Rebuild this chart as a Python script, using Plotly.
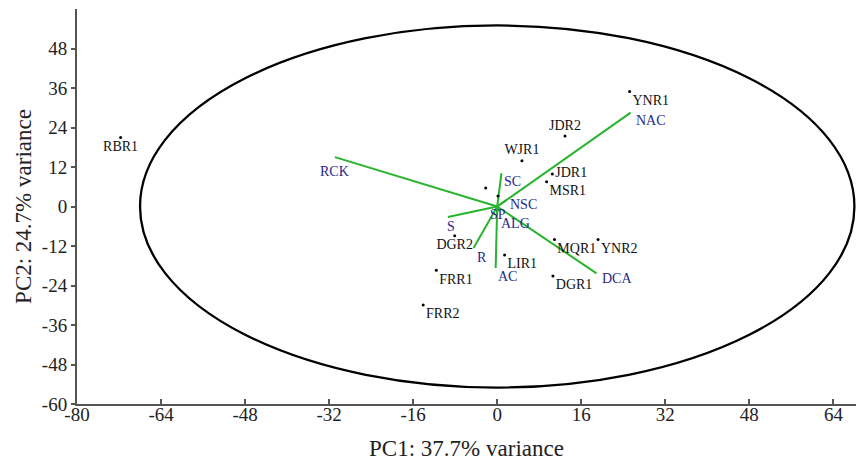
import plotly.graph_objects as go

# ---- data ----
sample_names = ["YNR1", "RBR1", "JDR2", "WJR1", "JDR1", "MSR1", "", "", "DGR2",
                "MQR1", "YNR2", "LIR1", "FRR1", "DGR1", "FRR2"]
sample_pc1 = [25.2, -71.7, 12.9, 4.7, 10.5, 9.4, -2.2, 0.15, -8.1,
              10.9, 19.2, 1.4, -11.6, 10.6, -14.1]
sample_pc2 = [34.9, 21.0, 21.4, 13.9, 9.9, 7.5, 5.6, 3.2, -8.9,
              -10.0, -10.0, -14.7, -19.4, -21.1, -29.9]

var_names = ["NAC", "RCK", "SC", "NSC", "SP", "ALG", "S", "R", "AC", "DCA"]
var_pc1 = [25.4, -30.9, 0.8, 1.8, 0.2, 0.3, -9.4, -4.5, -0.3, 18.9]
var_pc2 = [28.5, 15.0, 10.1, 2.0, -0.5, -1.5, -3.2, -12.6, -18.7, -20.3]

ellipse_center = (0.0, 0.0)
ellipse_semi_x = 68.0
ellipse_semi_y = 55.0

x_ticks = [-80, -64, -48, -32, -16, 0, 16, 32, 48, 64]
y_ticks = [-60, -48, -36, -24, -12, 0, 12, 24, 36, 48]

# ---- styles ----
sample_textpos = ["bottom right", "bottom center", "top center", "top center", "middle right",
                  "bottom right", "bottom right", "bottom right", "bottom center",
                  "bottom right", "bottom right", "bottom right", "bottom right",
                  "bottom right", "bottom right"]
# label placement of loading labels (anchor, pixel shifts)
var_xanchor = ["left", "center", "left", "left", "center", "left", "center", "left", "left", "left"]
var_xshift = [3, 0, 1, 1, 0, 0, 3, 1, 0, 3]
var_yshift = [-8, -14, -8, -5, -6, -12, -9, -10, -8, -5]

FONT = "Liberation Serif, Times New Roman, serif"
GREEN = "rgb(40,180,45)"
BLUE = "rgb(40,40,140)"

fig = go.Figure()

# loading vectors
lx, ly = [], []
for vx, vy in zip(var_pc1, var_pc2):
    lx += [0, vx, None]
    ly += [0, vy, None]
fig.add_trace(go.Scatter(x=lx, y=ly, mode="lines",
                         line=dict(color=GREEN, width=2), hoverinfo="skip",
                         showlegend=False))
for name, vx, vy, xa, xs, ys in zip(var_names, var_pc1, var_pc2,
                                    var_xanchor, var_xshift, var_yshift):
    fig.add_annotation(x=vx, y=vy, text=name, showarrow=False,
                       xanchor=xa, yanchor="middle", xshift=xs, yshift=ys,
                       font=dict(family=FONT, size=14, color=BLUE))

# samples
fig.add_trace(go.Scatter(x=sample_pc1, y=sample_pc2, mode="markers+text",
                         text=sample_names, textposition=sample_textpos,
                         marker=dict(color="black", size=3),
                         textfont=dict(family=FONT, size=14, color="#111"),
                         showlegend=False))

# confidence ellipse
cx, cy = ellipse_center
fig.add_shape(type="circle", xref="x", yref="y",
              x0=cx - ellipse_semi_x, x1=cx + ellipse_semi_x,
              y0=cy - ellipse_semi_y, y1=cy + ellipse_semi_y,
              line=dict(color="black", width=2.3))

fig.update_layout(
    width=856, height=461,
    margin=dict(l=77, r=0, t=9, b=57),
    paper_bgcolor="white", plot_bgcolor="white",
    font=dict(family=FONT, color="#222"),
    xaxis=dict(range=[-80, 68.3], tickvals=x_ticks, ticktext=[str(v) for v in x_ticks],
               showgrid=False, zeroline=False, showline=True,
               linecolor="#555", linewidth=2, ticks="inside", ticklen=5,
               tickcolor="#555", tickwidth=1.5, ticklabelstandoff=-8,
               tickfont=dict(family=FONT, size=19, color="#222"),
               title=dict(text="PC1: 37.7% variance", standoff=16,
                          font=dict(family=FONT, size=23, color="#222"))),
    yaxis=dict(range=[-60, 60], tickvals=y_ticks, ticktext=[str(v) for v in y_ticks],
               showgrid=False, zeroline=False, showline=True,
               linecolor="#555", linewidth=2, ticks="outside", ticklen=4,
               tickcolor="#555", tickwidth=1.5,
               tickfont=dict(family=FONT, size=19, color="#222"),
               title=dict(text="PC2: 24.7% variance", standoff=4,
                          font=dict(family=FONT, size=23, color="#222"))),
)

fig.write_html("out.html")
